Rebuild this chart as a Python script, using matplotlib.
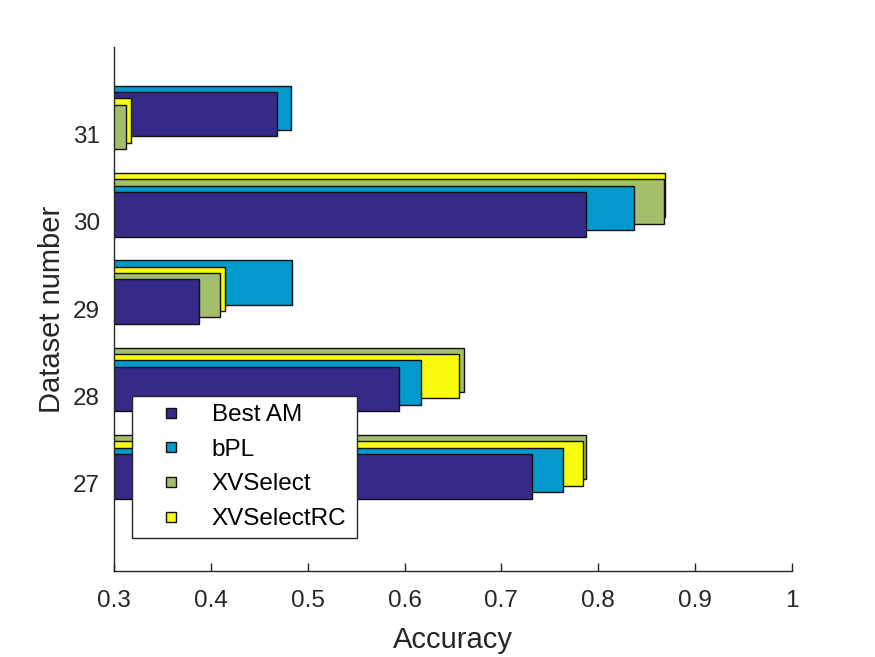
import matplotlib
matplotlib.use("Agg")
import matplotlib.pyplot as plt
from matplotlib.lines import Line2D

plt.rcParams['font.family'] = ['Liberation Sans', 'DejaVu Sans']

datasets = [27, 28, 29, 30, 31]
series_names = ["Best AM", "bPL", "XVSelect", "XVSelectRC"]
best_am = [0.732, 0.594, 0.388, 0.787, 0.468]
bpl = [0.764, 0.617, 0.484, 0.837, 0.483]
xvselect = [0.787, 0.661, 0.409, 0.868, 0.312]
xvselectrc = [0.784, 0.656, 0.415, 0.869, 0.318]
colors = ["#352A87", "#0399CC", "#A5BE6B", "#F9FB0E"]

series = [best_am, bpl, xvselect, xvselectrc]

fig = plt.figure(figsize=(8.75, 6.57), dpi=100)
ax = fig.add_axes([114/875, (657-571)/657, 678/875, 524/657])

base_off = 0.085
step = 0.073
height = 0.51
for i, d in enumerate(datasets):
    vals = [s[i] for s in series]
    order = sorted(range(4), key=lambda k: vals[k], reverse=True)  # largest first (back)
    for draw_idx, k in enumerate(order):
        rank = 3 - draw_idx
        ax.barh(d + base_off + rank * step, vals[k], height=height, left=0,
                color=colors[k], edgecolor="#111111", linewidth=1.0,
                zorder=2 + draw_idx)

ax.set_xlim(0.3, 1.0)
ax.set_ylim(26, 32)
ax.set_xticks([0.3, 0.4, 0.5, 0.6, 0.7, 0.8, 0.9, 1.0])
ax.set_xticklabels(["0.3", "0.4", "0.5", "0.6", "0.7", "0.8", "0.9", "1"])
ax.set_yticks(datasets)
ax.set_yticklabels([str(d) for d in datasets])
for s in ["top", "right"]:
    ax.spines[s].set_visible(False)
for s in ["left", "bottom"]:
    ax.spines[s].set_color("#262626")
    ax.spines[s].set_linewidth(1.0)
    ax.spines[s].set_zorder(20)
ax.tick_params(axis="both", direction="in", length=6, width=1.0, colors="#262626",
               labelsize=17.5, labelcolor="#262626")
ax.tick_params(axis="x", pad=14)
ax.tick_params(axis="y", pad=10)
ax.set_xlabel("Accuracy", fontsize=21, color="#262626", labelpad=10)
ax.set_ylabel("Dataset number", fontsize=21, color="#262626", labelpad=5)

handles = [Line2D([], [], linestyle="none", marker="s", markersize=7.5,
                  markerfacecolor=c, markeredgecolor="#111111", markeredgewidth=1.0)
           for c in colors]
leg = ax.legend(handles, series_names, loc="lower left",
                bbox_to_anchor=(0.026, 0.0624, 0.333, 0.272), mode="expand",
                fontsize=17.5, frameon=True, fancybox=False, framealpha=1,
                handlelength=2.6, handletextpad=0.35, labelspacing=0.52,
                borderpad=0.34, borderaxespad=0)
leg.get_frame().set_edgecolor("#262626")
leg.get_frame().set_linewidth(1.0)
leg.set_zorder(30)

fig.savefig("out.png", dpi=100)
